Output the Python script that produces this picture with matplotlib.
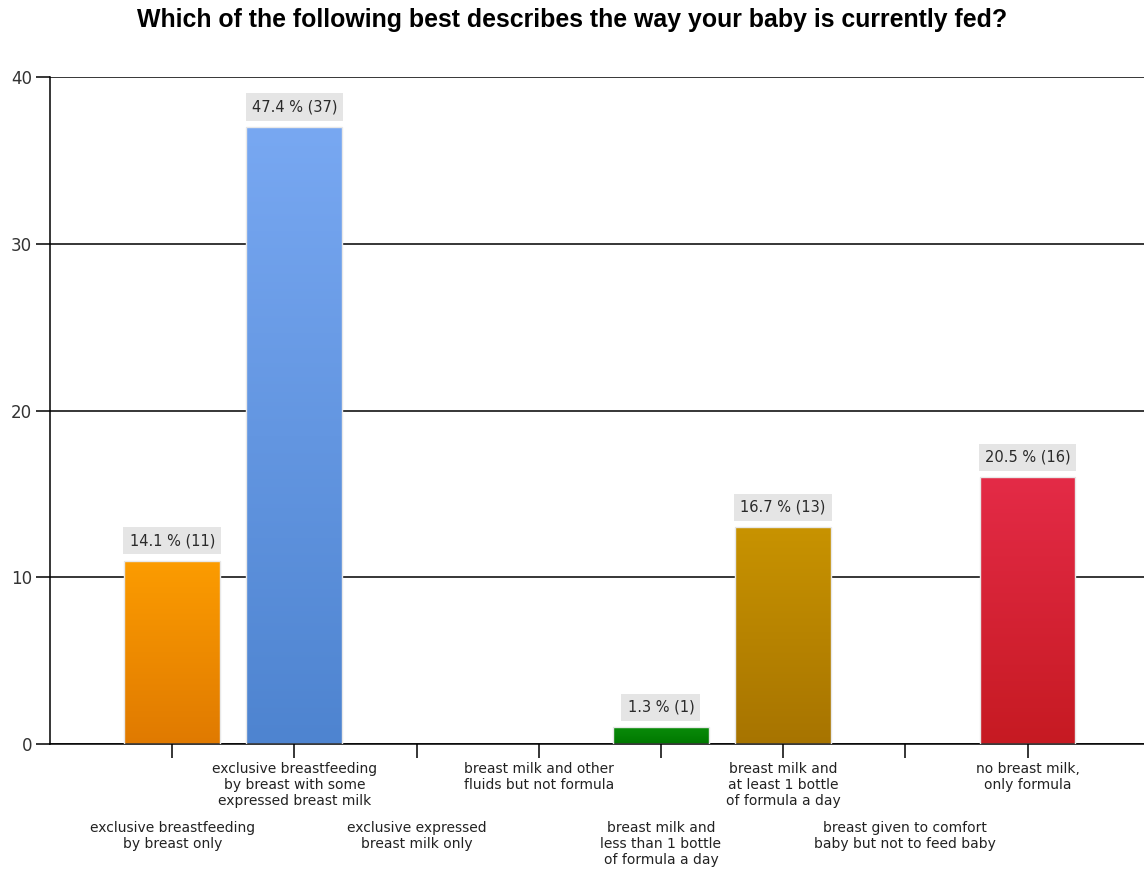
import numpy as np
import matplotlib.pyplot as plt
from matplotlib.colors import LinearSegmentedColormap
from matplotlib.transforms import blended_transform_factory

categories = ["exclusive breastfeeding\nby breast only",
              "exclusive breastfeeding\nby breast with some\nexpressed breast milk",
              "exclusive expressed\nbreast milk only",
              "breast milk and other\nfluids but not formula",
              "breast milk and\nless than 1 bottle\nof formula a day",
              "breast milk and\nat least 1 bottle\nof formula a day",
              "breast given to comfort\nbaby but not to feed baby",
              "no breast milk,\nonly formula"]
counts = [11, 37, 0, 0, 1, 13, 0, 16]
percents = [14.1, 47.4, 0.0, 0.0, 1.3, 16.7, 0.0, 20.5]
# top / bottom colour of each bar's vertical gradient
top_colors = ["#fc9c00", "#78a8f2", None, None, "#0a8c0a", "#c89300", None, "#e42b47"]
bottom_colors = ["#e07a00", "#4e84d0", None, None, "#007800", "#a77400", None, "#c61a22"]

W, H = 1144, 873
fig = plt.figure(figsize=(W / 100, H / 100), dpi=100)
ax = fig.add_axes([50 / W, (H - 744) / H, (W - 50) / W, (744 - 77) / H])

x = np.arange(1, len(categories) + 1)

ax.set_yticks([0, 10, 20, 30, 40])
ax.yaxis.grid(True, color="black", linewidth=1.1)
ax.set_axisbelow(True)
for s in ["top", "right"]:
    ax.spines[s].set_visible(False)
for s in ["left", "bottom"]:
    ax.spines[s].set_linewidth(1.1)
ax.tick_params(axis="y", length=10, width=1.1, labelsize=12, labelcolor="#333333", pad=3)
ax.tick_params(axis="x", length=10, width=1.1, labelbottom=False)
ax.set_xticks(x)

edge_w = [1.0 if c > 0 else 0 for c in counts]
bars = ax.bar(x, counts, width=0.785, color="none", edgecolor="#e8e8e8",
              linewidth=edge_w, zorder=3)
grad = np.linspace(0, 1, 256).reshape(-1, 1)
for i, b in enumerate(bars):
    if counts[i] == 0:
        continue
    cmap = LinearSegmentedColormap.from_list("g%d" % i, [bottom_colors[i], top_colors[i]])
    x0, w = b.get_x(), b.get_width()
    im = ax.imshow(grad, cmap=cmap, origin="lower", aspect="auto",
                   extent=[x0, x0 + w, 0, counts[i]], zorder=2)
    im.set_clip_path(b)
    ax.annotate("%.1f %% (%d)" % (percents[i], counts[i]), xy=(x[i], counts[i]),
                xytext=(0, 9), textcoords="offset points", ha="center", va="bottom",
                fontsize=10.5, color="#2a2a2a", zorder=5,
                bbox=dict(boxstyle="square,pad=0.42", facecolor="#e5e5e5", edgecolor="none"))
ax.set_xlim(0, (W - 49) / 122.3)
ax.set_ylim(0, 40)

# staggered category labels under the axis
trans = blended_transform_factory(ax.transData, ax.transAxes)
for i, lab in enumerate(categories):
    off = -18 if i % 2 == 1 else -77
    ax.annotate(lab, xy=(x[i], 0), xycoords=trans, xytext=(0, off * 0.72),
                textcoords="offset points", ha="center", va="top", fontsize=10,
                color="#222222", linespacing=1.2, annotation_clip=False)

fig.suptitle("Which of the following best describes the way your baby is currently fed?",
             y=1 - 20 / H, va="center", fontsize=17.9, fontweight="bold",
             family="Liberation Sans")
fig.savefig("out.png", dpi=100)
